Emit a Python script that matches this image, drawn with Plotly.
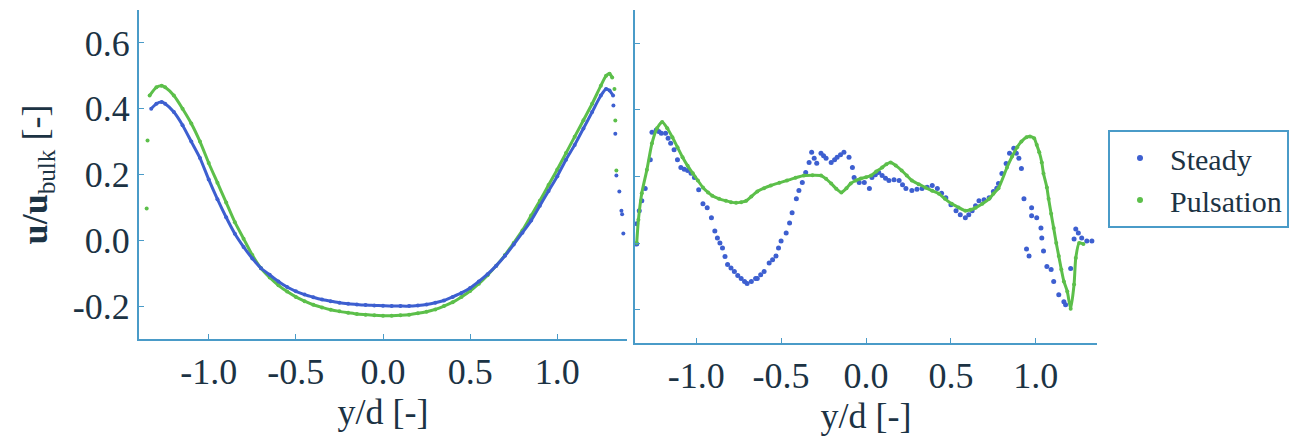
import plotly.graph_objects as go

# ---------------- data ----------------
# Left panel (mean profiles)
left_steady_x = [-1.33, -1.30, -1.27, -1.25, -1.20, -1.15, -1.10, -1.05, -1.00, -0.95, -0.90, -0.85,
                 -0.80, -0.75, -0.70, -0.65, -0.60, -0.55, -0.50, -0.45, -0.40, -0.35, -0.30, -0.25,
                 -0.20, -0.15, -0.10, -0.05, 0.00, 0.05, 0.10, 0.15, 0.20, 0.25, 0.30, 0.35, 0.40,
                 0.45, 0.50, 0.55, 0.60, 0.65, 0.70, 0.75, 0.80, 0.85, 0.90, 0.95, 1.00, 1.05, 1.10,
                 1.15, 1.20, 1.25, 1.28, 1.30, 1.32]
left_steady_y = [0.40, 0.415, 0.42, 0.415, 0.39, 0.35, 0.30, 0.25, 0.185, 0.125, 0.07, 0.02,
                 -0.02, -0.055, -0.085, -0.105, -0.125, -0.142, -0.155, -0.165, -0.173, -0.18, -0.185, -0.19,
                 -0.193, -0.195, -0.197, -0.198, -0.199, -0.20, -0.20, -0.20, -0.198, -0.195, -0.19, -0.183, -0.172,
                 -0.16, -0.145, -0.125, -0.103, -0.077, -0.047, -0.013, 0.023, 0.06, 0.105, 0.15, 0.195, 0.245, 0.29,
                 0.34, 0.39, 0.44, 0.46, 0.455, 0.44]
left_steady_edge_x = [1.322, 1.333, 1.339, 1.356, 1.368, 1.372, 1.379]
left_steady_edge_y = [0.41, 0.324, 0.197, 0.148, 0.09, 0.079, 0.021]

left_puls_x = [-1.339, -1.30, -1.27, -1.25, -1.20, -1.15, -1.10, -1.05, -1.00, -0.95, -0.90, -0.85,
               -0.80, -0.75, -0.70, -0.65, -0.60, -0.55, -0.50, -0.45, -0.40, -0.35, -0.30, -0.25,
               -0.20, -0.15, -0.10, -0.05, 0.00, 0.05, 0.10, 0.15, 0.20, 0.25, 0.30, 0.35, 0.40,
               0.45, 0.50, 0.55, 0.60, 0.65, 0.70, 0.75, 0.80, 0.85, 0.90, 0.95, 1.00, 1.05, 1.10,
               1.15, 1.20, 1.25, 1.28, 1.30, 1.315]
left_puls_y = [0.44, 0.465, 0.47, 0.465, 0.44, 0.40, 0.355, 0.30, 0.235, 0.175, 0.115, 0.055,
               0.005, -0.045, -0.085, -0.113, -0.137, -0.156, -0.172, -0.185, -0.196, -0.204, -0.211, -0.216,
               -0.22, -0.224, -0.226, -0.228, -0.229, -0.229, -0.228, -0.226, -0.222, -0.217, -0.21, -0.20, -0.188,
               -0.172, -0.154, -0.132, -0.106, -0.077, -0.045, -0.008, 0.03, 0.075, 0.12, 0.168, 0.215, 0.265, 0.315,
               0.365, 0.415, 0.47, 0.50, 0.506, 0.495]
left_puls_edge_x = [-1.356, -1.351, 1.328, 1.333, 1.339]
left_puls_edge_y = [0.097, 0.303, 0.46, 0.364, 0.212]

# Right panel (fluctuating component)
right_steady_x = [-1.35, -1.35, -1.335, -1.32, -1.30, -1.27, -1.26, -1.235, -1.22, -1.205, -1.18, -1.165,
                  -1.15, -1.13, -1.11, -1.09, -1.07, -1.05, -1.03, -1.01, -0.985, -0.96, -0.935, -0.91,
                  -0.89, -0.875, -0.86, -0.845, -0.83, -0.815, -0.795, -0.775, -0.755, -0.735, -0.715, -0.70,
                  -0.675, -0.65, -0.64, -0.62, -0.60, -0.57, -0.55, -0.53, -0.515, -0.50, -0.47, -0.45,
                  -0.435, -0.41, -0.395, -0.375, -0.355, -0.335, -0.32, -0.305, -0.29, -0.265, -0.25, -0.235,
                  -0.205, -0.185, -0.17, -0.15, -0.13, -0.10, -0.08, -0.07, -0.04, -0.01, 0.02, 0.035,
                  0.055, 0.075, 0.095, 0.115, 0.135, 0.165, 0.195, 0.215, 0.235, 0.27, 0.30, 0.33,
                  0.36, 0.39, 0.42, 0.445, 0.47, 0.50, 0.53, 0.555, 0.585, 0.605, 0.625, 0.645,
                  0.665, 0.695, 0.725, 0.75, 0.77, 0.78, 0.80, 0.825, 0.845, 0.87, 0.885, 0.90,
                  0.915, 0.93, 0.945, 0.96, 0.975, 0.975, 1.005, 1.03, 1.035, 1.045, 1.065, 1.09,
                  1.105, 1.135, 1.165, 1.175, 1.205, 1.225, 1.235, 1.25, 1.27, 1.30, 1.33]
right_steady_y = [-0.003, 0.058, 0.097, 0.127, 0.164, 0.25, 0.333, 0.34, 0.335, 0.33, 0.33, 0.315,
                  0.30, 0.28, 0.25, 0.227, 0.222, 0.218, 0.21, 0.197, 0.16, 0.118, 0.106, 0.076,
                  0.036, 0.015, 0.0, -0.015, -0.04, -0.064, -0.075, -0.085, -0.097, -0.106, -0.115, -0.121,
                  -0.115, -0.106, -0.106, -0.095, -0.085, -0.06, -0.05, -0.039, -0.015, 0.006, 0.03, 0.06,
                  0.091, 0.133, 0.158, 0.182, 0.212, 0.242, 0.273, 0.255, 0.24, 0.27, 0.262, 0.255,
                  0.242, 0.25, 0.258, 0.265, 0.273, 0.258, 0.227, 0.197, 0.182, 0.182, 0.164, 0.197,
                  0.205, 0.212, 0.203, 0.195, 0.188, 0.19, 0.188, 0.175, 0.164, 0.158, 0.162, 0.164,
                  0.168, 0.173, 0.164, 0.15, 0.136, 0.115, 0.097, 0.085, 0.076, 0.085, 0.097, 0.112,
                  0.127, 0.13, 0.136, 0.155, 0.165, 0.179, 0.209, 0.239, 0.27, 0.285, 0.27, 0.255,
                  0.224, 0.133, -0.018, -0.039, 0.106, 0.082, 0.076, 0.045, 0.015, -0.024, -0.07, -0.079,
                  -0.115, -0.155, -0.176, -0.185, -0.076, 0.012, 0.042, 0.03, 0.015, 0.006, 0.006]

right_puls_x = [-1.35, -1.34, -1.32, -1.29, -1.26, -1.23, -1.20, -1.17, -1.14, -1.11, -1.08, -1.05,
                -1.02, -0.99, -0.96, -0.93, -0.905, -0.865, -0.825, -0.795, -0.765, -0.735, -0.705, -0.675,
                -0.64, -0.60, -0.56, -0.51, -0.465, -0.415, -0.365, -0.315, -0.265, -0.235, -0.205, -0.175,
                -0.145, -0.115, -0.09, -0.06, -0.03, 0.0, 0.03, 0.06, 0.095, 0.12, 0.145, 0.175,
                0.21, 0.24, 0.27, 0.31, 0.35, 0.39, 0.43, 0.465, 0.505, 0.545, 0.585, 0.615,
                0.645, 0.685, 0.725, 0.75, 0.78, 0.83, 0.86, 0.89, 0.915, 0.945, 0.965, 0.99,
                1.005, 1.02, 1.035, 1.045, 1.065, 1.075, 1.09, 1.105, 1.12, 1.135, 1.15, 1.165,
                1.185, 1.205, 1.225, 1.235, 1.255, 1.28]
right_puls_y = [0.0, 0.07, 0.15, 0.22, 0.30, 0.345, 0.364, 0.345, 0.318, 0.288, 0.258, 0.232,
                0.21, 0.188, 0.167, 0.152, 0.142, 0.133, 0.127, 0.123, 0.121, 0.123, 0.127, 0.14,
                0.155, 0.165, 0.173, 0.181, 0.188, 0.196, 0.203, 0.204, 0.203, 0.193, 0.179, 0.163,
                0.152, 0.165, 0.179, 0.188, 0.194, 0.198, 0.203, 0.215, 0.227, 0.237, 0.242, 0.233,
                0.218, 0.203, 0.188, 0.177, 0.167, 0.157, 0.148, 0.133, 0.118, 0.107, 0.097, 0.10,
                0.106, 0.118, 0.133, 0.148, 0.165, 0.227, 0.26, 0.288, 0.305, 0.318, 0.32, 0.315,
                0.295, 0.273, 0.242, 0.209, 0.167, 0.133, 0.088, 0.045, 0.0, -0.039, -0.079, -0.115,
                -0.145, -0.197, -0.124, -0.045, 0.0, -0.003]

y_ticks = [-0.2, 0.0, 0.2, 0.4, 0.6]
y_tick_text = ["-0.2", "0.0", "0.2", "0.4", "0.6"]
x_ticks = [-1.0, -0.5, 0.0, 0.5, 1.0]
x_tick_text = ["-1.0", "-0.5", "0.0", "0.5", "1.0"]
series_names = ["Steady", "Pulsation"]

# ---------------- style ----------------
BLUE = "#3d5fd0"
GREEN = "#5cbf4a"
AXIS = "#4a9bc8"
TXT = "#1c3344"
FONT = "Liberation Serif, Times New Roman, DejaVu Serif, serif"

fig = go.Figure()

def add(x, y, color, xa, ya, mode, size=4, width=3):
    fig.add_trace(go.Scatter(
        x=x, y=y, mode=mode, xaxis=xa, yaxis=ya, showlegend=False,
        marker=dict(color=color, size=size),
        line=dict(color=color, width=width, shape="spline", smoothing=0.6),
        hoverinfo="x+y"))

add(left_puls_x, left_puls_y, GREEN, "x", "y", "lines+markers")
add(left_steady_x, left_steady_y, BLUE, "x", "y", "lines+markers")
add(left_puls_edge_x, left_puls_edge_y, GREEN, "x", "y", "markers")
add(left_steady_edge_x, left_steady_edge_y, BLUE, "x", "y", "markers")

add(right_steady_x, right_steady_y, BLUE, "x2", "y2", "markers", size=5)
add(right_puls_x, right_puls_y, GREEN, "x2", "y2", "lines+markers", size=4, width=3)

# legend-only entries (dot symbols)
for name, col in zip(series_names, [BLUE, GREEN]):
    fig.add_trace(go.Scatter(x=[None], y=[None], mode="markers", name=name,
                             marker=dict(color=col, size=6), xaxis="x2", yaxis="y2"))

# page body has an 8px default margin, so the figure is 8px smaller and coords are offset
OFF = 8
W, H = 1303 - OFF, 439 - OFF
def px(v):
    return (v - OFF) / W
def py(v):
    return 1 - (v - OFF) / H

axis_common = dict(showline=True, linecolor=AXIS, linewidth=2, ticks="inside", ticklen=5,
                   tickcolor=AXIS, showgrid=False, zeroline=False, mirror=False, automargin=False,
                   tickfont=dict(family=FONT, size=36, color=TXT))
title_font = dict(family=FONT, size=36, color=TXT)

fig.update_layout(
    width=W, height=H,
    margin=dict(l=0, r=0, t=0, b=0, autoexpand=False),
    paper_bgcolor="white", plot_bgcolor="white",
    font=dict(family=FONT, color=TXT),
    xaxis=dict(domain=[px(139), px(627)], range=[-1.4, 1.4], tickvals=x_ticks,
               ticktext=x_tick_text, anchor="y",
               title=dict(text="y/d [-]", font=title_font, standoff=4),
               **axis_common),
    yaxis=dict(domain=[py(339), py(10)], range=[-0.3, 0.7], tickvals=y_ticks,
               ticktext=y_tick_text, anchor="x",
               title=dict(text="<b>u/u</b><sub>bulk</sub> [-]", font=title_font, standoff=14),
               **axis_common),
    xaxis2=dict(domain=[px(635), px(1097)], range=[-1.36, 1.36], tickvals=x_ticks,
                ticktext=x_tick_text, anchor="y2",
                title=dict(text="y/d [-]", font=title_font, standoff=4),
                **axis_common),
    yaxis2=dict(domain=[py(343), py(10)], range=[-0.3, 0.7], tickvals=y_ticks,
                showticklabels=False, anchor="x2", **axis_common),
    legend=dict(x=px(1108), y=py(130), xanchor="left", yanchor="top",
                bordercolor=AXIS, borderwidth=2, bgcolor="white",
                font=dict(family=FONT, size=30, color=TXT), itemwidth=50,
                tracegroupgap=0),
)

fig.write_html("out.html")
